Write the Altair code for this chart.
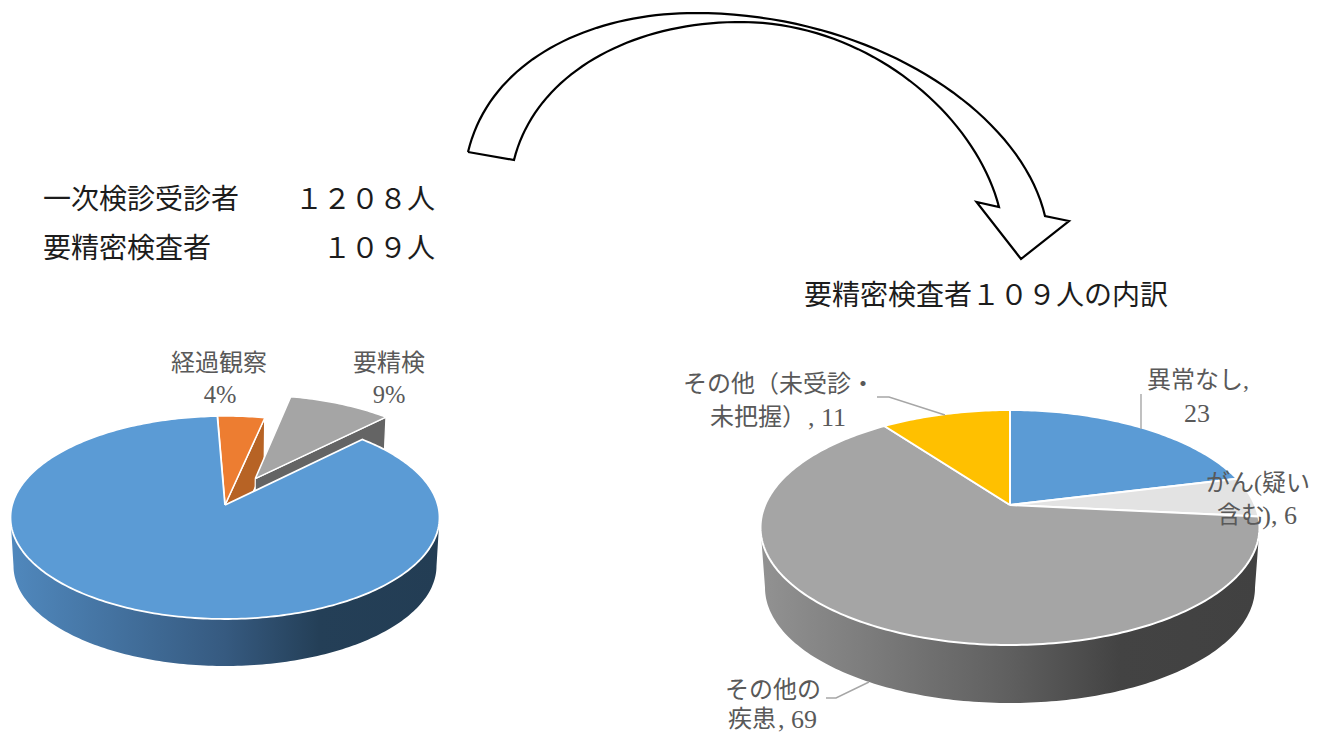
import math
import altair as alt
import pandas as pd

# ---- chart values ----
left_names = ["経過観察", "要精検", "その他"]
left_values = [4, 9, 87]
right_names = ["異常なし", "がん(疑い含む)", "その他の疾患", "その他（未受診・未把握）"]
right_values = [23, 6, 69, 11]

BLUE, ORANGE, GREY, YELLOW, PALE = "#5b9bd5", "#ed7d31", "#a5a5a5", "#ffc000", "#e3e3e3"
TEXT = "#595959"
SERIF = "Liberation Serif, Noto Sans CJK JP"
GOTHIC = "Noto Sans CJK JP"

# (text, x, y, align)
heading_rows = [
    ("一次検診受診者", 43, 201, "left"),
    ("１２０８人", 435, 201, "right"),
    ("要精密検査者", 43, 250, "left"),
    ("１０９人", 435, 250, "right"),
    ("要精密検査者１０９人の内訳", 986, 297, "center"),
]
label_rows = [
    ("経過観察", 219, 364, "center"),
    ("要精検", 389, 364, "center"),
    ("異常なし,", 1198, 381, "center"),
    ("がん(疑い", 1258, 484, "center"),
    ("含む", 1217, 516, "left"),
    ("その他（未受診・", 683, 385, "left"),
    ("未把握）", 710, 418, "left"),
    ("その他の", 725, 691, "left"),
    ("疾患", 728, 720, "left"),
]
percent_rows = [
    ("4%", 220, 396, "center"),
    ("9%", 389, 396, "center"),
]
number_rows = [
    ("23", 1197, 414, "center"),
    ("), 6", 1297, 516, "right"),
    (", 11", 846, 418, "right"),
    (", 69", 817, 719.5, "right"),
]
leaders = [
    [(1141, 394), (1141, 429)],
    [(877, 397), (889, 397), (945, 415)],
    [(826, 698), (836, 698), (869, 682)],
]

X = alt.X("x:Q", axis=None, scale=alt.Scale(domain=[0, 1324], nice=False, zero=False))
Y = alt.Y("y:Q", axis=None, scale=alt.Scale(domain=[733, 0], nice=False, zero=False))


class Pie:
    """Tilted pie seen in perspective: a circle pushed through a projective map."""

    def __init__(self, cx, cy, half_width, up, down, depth_bottom, lower_width):
        self.cx, self.cy = cx, cy
        self.k = (down - up) / (down + up)
        self.b = up * (1 + self.k)
        self.r = half_width * math.sqrt(1 - self.k ** 2)
        self.s = lower_width / half_width
        self.lower_cy = depth_bottom - down * self.s

    def project(self, u, v, low=False):
        s = self.s if low else 1.0
        cy = self.lower_cy if low else self.cy
        d = 1 + self.k * v
        return self.cx + s * self.r * u / d, cy - s * self.b * v / d

    def rim(self, a, b, low=False, off=(0, 0)):
        n = max(2, int(abs(b - a)) + 1)
        pts = []
        for i in range(n + 1):
            t = math.radians(a + (b - a) * i / n)
            pts.append(self.project(math.sin(t) + off[0], math.cos(t) + off[1], low))
        return pts

    def centre(self, low=False, off=(0, 0)):
        return self.project(off[0], off[1], low)

    def widest(self):
        return math.degrees(math.asin(self.k))


def shape(points, fill, stroke=None, width=0.0):
    pts = list(points) + [points[0]]
    df = pd.DataFrame({"x": [p[0] for p in pts], "y": [p[1] for p in pts], "i": range(len(pts))})
    kw = {"fill": fill, "strokeJoin": "round"}
    if stroke:
        kw.update(stroke=stroke, strokeWidth=width)
    else:
        kw.update(strokeWidth=0)
    return alt.Chart(df).mark_line(**kw).encode(x=X, y=Y, order=alt.Order("i:Q"))


def path(points, colour, width):
    df = pd.DataFrame({"x": [p[0] for p in points], "y": [p[1] for p in points], "i": range(len(points))})
    return alt.Chart(df).mark_line(stroke=colour, strokeWidth=width, strokeJoin="miter").encode(
        x=X, y=Y, order=alt.Order("i:Q"))


def bezier(p0, p1, p2, p3, n=40):
    out = []
    for i in range(n + 1):
        t = i / n
        m = 1 - t
        out.append(tuple(m**3 * p0[j] + 3 * m * m * t * p1[j] + 3 * m * t * t * p2[j] + t**3 * p3[j] for j in (0, 1)))
    return out


def wall_gradient(stops):
    return alt.Gradient(gradient="linear", x1=0, x2=1, y1=0, y2=0,
                        stops=[alt.GradientStop(offset=o, color=c) for o, c in stops])


def spans(values, start):
    total = sum(values)
    out, a = [], start
    for v in values:
        out.append((a, a + 360 * v / total))
        a += 360 * v / total
    return out


layers = []

# ---- left pie ----
lp = Pie(225, 505, 214.5, 89, 114, 666, 211.5)
(o_a, o_b), (g_a, g_b), (b_a, b_b) = spans(left_values, -2.3)
g_mid = math.radians((g_a + g_b) / 2)
g_off = (0.31 * math.sin(g_mid), 0.31 * math.cos(g_mid))

# cut faces of the two small slices, hidden partly by the large slice
o_end = math.radians(o_b)
o_tip = (math.sin(o_end), math.cos(o_end))
layers.append(shape([lp.centre(), lp.project(*o_tip), lp.project(*o_tip, low=True), lp.centre(low=True)],
                    "#b76325", "white", 1.5))
g_end = math.radians(g_b)
g_tip = (math.sin(g_end) + g_off[0], math.cos(g_end) + g_off[1])
layers.append(shape([lp.centre(off=g_off), lp.project(*g_tip), lp.project(*g_tip, low=True),
                     lp.centre(low=True, off=g_off)], "#646464", "white", 1.2))
layers.append(shape([lp.centre(off=g_off)] + lp.rim(g_a, g_b, off=g_off), GREY, "white", 1.5))
layers.append(shape([lp.centre()] + lp.rim(o_a, o_b), ORANGE, "white", 1.5))

w = lp.widest()
front = lp.rim(90 + w, 270 - w) + lp.rim(270 - w, 90 + w, low=True)
layers.append(shape(front, wall_gradient([(0, "#5088bd"), (0.5, "#365a80"), (0.72, "#243f57"), (1, "#233d54")])))
layers.append(shape([lp.centre()] + lp.rim(b_a, b_b), BLUE, "white", 1.8))

# ---- right pie ----
rp = Pie(1010, 505, 249.5, 95, 140, 703, 245)
w = rp.widest()
front = rp.rim(90 + w, 270 - w) + rp.rim(270 - w, 90 + w, low=True)
layers.append(shape(front, wall_gradient([(0, "#929292"), (0.5, "#5f5f5f"), (0.72, "#434343"), (1, "#414141")])))
for (a, b), colour in zip(spans(right_values, 0), [BLUE, PALE, GREY, YELLOW]):
    layers.append(shape([rp.centre()] + rp.rim(a, b), colour, "white", 2))

# ---- curved arrow between the pies ----
arrow = (
    bezier((468, 152), (490, 60), (590, 13), (695, 13))
    + bezier((695, 13), (870, 13), (1020, 110), (1045, 216))
    + [(1069, 221), (1021, 259), (976.5, 202)]
    + bezier((999, 207), (975, 115), (870, 24), (744, 22))
    + bezier((744, 22), (630, 21), (535, 75), (514, 160))
    + [(468, 152)]
)
layers.append(path(arrow, "black", 2.2))

# ---- leader lines ----
for line in leaders:
    layers.append(path(line, "#a6a6a6", 1.4))


# ---- text ----
def texts(rows, size, colour, font):
    for align in ("left", "center", "right"):
        sub = [r for r in rows if r[3] == align]
        if sub:
            df = pd.DataFrame(sub, columns=["t", "x", "y", "a"])
            yield alt.Chart(df).mark_text(align=align, baseline="middle", fontSize=size, color=colour,
                                          font=font).encode(x=X, y=Y, text="t:N")


layers.extend(texts(heading_rows, 28, "#1c1c1c", GOTHIC))
layers.extend(texts(label_rows, 24, TEXT, SERIF))
layers.extend(texts(percent_rows, 24.5, TEXT, SERIF))
layers.extend(texts(number_rows, 26, TEXT, SERIF))

chart = alt.layer(*layers).properties(
    width=1324, height=733, padding=0, autosize=alt.AutoSizeParams(type="none"), background="white"
).configure_view(stroke=None)

chart.save("out.html", embed_options={"renderer": "svg", "actions": False})
